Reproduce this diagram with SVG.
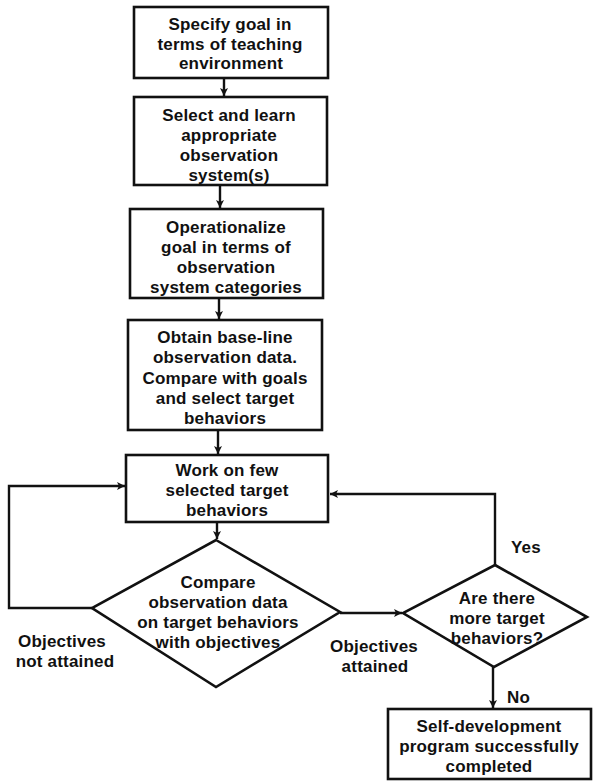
<svg xmlns="http://www.w3.org/2000/svg" width="593" height="783" viewBox="0 0 593 783">
<style>
.b{fill:#fff;stroke:#111;stroke-width:2.6}
.c{fill:none;stroke:#111;stroke-width:2.4}
text{font-family:"Liberation Sans",Arial,sans-serif;font-weight:bold;font-size:17px;fill:#111;text-anchor:middle;letter-spacing:0.2px}
.l{text-anchor:start}
</style>
<defs>
<marker id="a" markerWidth="10" markerHeight="10" refX="9" refY="5" orient="auto" markerUnits="userSpaceOnUse">
<path d="M1,1 L9,5 L1,9 L3,5 Z" fill="#111"/>
</marker>
</defs>
<rect width="593" height="783" fill="#fff"/>
<g id="connectors">
<line class="c" x1="224" y1="78" x2="224" y2="96" marker-end="url(#a)"/>
<line class="c" x1="220" y1="185" x2="220" y2="208" marker-end="url(#a)"/>
<line class="c" x1="219" y1="298" x2="219" y2="319" marker-end="url(#a)"/>
<line class="c" x1="218" y1="430" x2="218" y2="454" marker-end="url(#a)"/>
<line class="c" x1="217" y1="522" x2="217" y2="539" marker-end="url(#a)"/>
<polyline class="c" points="92,608 9,608 9,486 125,486" marker-end="url(#a)"/>
<line class="c" x1="340" y1="613" x2="402" y2="613" marker-end="url(#a)"/>
<polyline class="c" points="495,565 495,494 330,494" marker-end="url(#a)"/>
<line class="c" x1="493" y1="667" x2="493" y2="708" marker-end="url(#a)"/>
<text x="62" y="647">Objectives</text>
<text x="65" y="667">not attained</text>
<text x="374" y="652">Objectives</text>
<text x="375" y="672">attained</text>
<text class="l" x="511" y="553">Yes</text>
<text class="l" x="507" y="703">No</text>
</g>
<g id="n1"><rect class="b" x="134" y="7" width="194" height="71"/>
<text x="230" y="30">Specify goal in</text><text x="230" y="50">terms of teaching</text><text x="231" y="69">environment</text></g>
<g id="n2"><rect class="b" x="134" y="97" width="193" height="88"/>
<text x="229" y="121">Select and learn</text><text x="229" y="141">appropriate</text><text x="229" y="161">observation</text><text x="229" y="181">system(s)</text></g>
<g id="n3"><rect class="b" x="130" y="209" width="193" height="89"/>
<text x="226" y="233">Operationalize</text><text x="226" y="253">goal in terms of</text><text x="226" y="273">observation</text><text x="226" y="293">system categories</text></g>
<g id="n4"><rect class="b" x="128" y="320" width="194" height="110"/>
<text x="225" y="343">Obtain base-line</text><text x="225" y="363">observation data.</text><text x="225" y="384">Compare with goals</text><text x="225" y="404">and select target</text><text x="225" y="424">behaviors</text></g>
<g id="n5"><rect class="b" x="126" y="455" width="202" height="67"/>
<text x="227" y="476">Work on few</text><text x="227" y="496">selected target</text><text x="227" y="516">behaviors</text></g>
<g id="n6"><polygon class="b" points="216,540 340,612 216,687 92,608"/>
<text x="218" y="588">Compare</text><text x="218" y="608">observation data</text><text x="218" y="628">on target behaviors</text><text x="218" y="648">with objectives</text></g>
<g id="n7"><polygon class="b" points="495,565 587,617 494,667 403,613"/>
<text x="497" y="604">Are there</text><text x="497" y="624">more target</text><text x="497" y="644">behaviors?</text></g>
<g id="n8"><rect class="b" x="388" y="709" width="203" height="70"/>
<text x="489" y="732">Self-development</text><text x="489" y="752">program successfully</text><text x="489" y="772">completed</text></g>
</svg>
